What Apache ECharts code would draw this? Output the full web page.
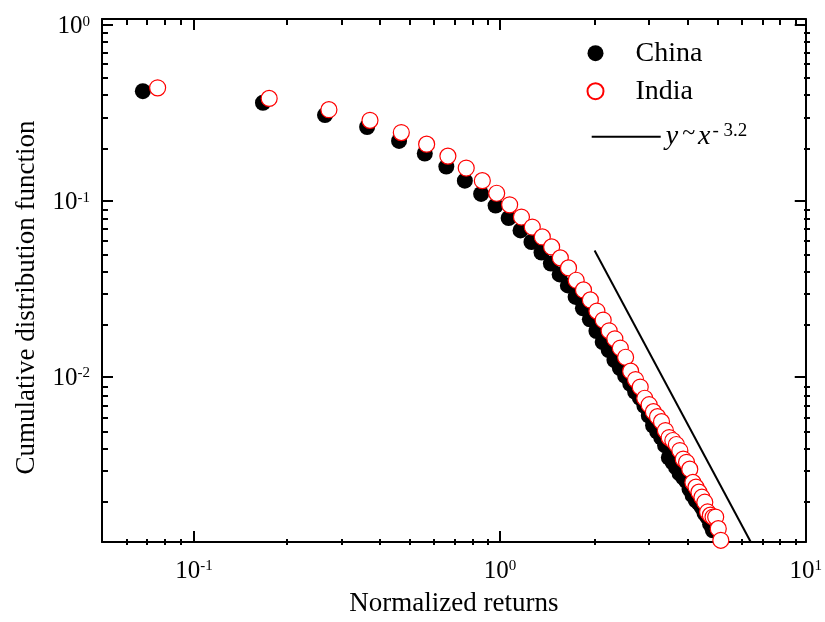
<!DOCTYPE html>
<html><head><meta charset="utf-8">
<script src="https://cdn.jsdelivr.net/npm/echarts@6/dist/echarts.min.js"></script>
<style>html,body{margin:0;padding:0;background:#fff}#c{width:825px;height:622px}</style>
</head><body><div id="c"></div>
<script>
// ---- data ----
const chinaX = [0.068,0.168,0.268,0.368,0.468,0.568,0.668,0.768,0.868,0.968,
  1.068,1.168,1.268,1.368,1.468,1.568,1.668,1.768,1.868,1.968,
  2.068,2.168,2.268,2.368,2.468,2.568,2.668,2.768,2.868,2.968,
  3.068,3.168,3.268,3.368,3.468,3.568,3.668,3.768,3.868,3.968,
  4.068,4.168,4.268,4.368,4.468,4.568,4.668,4.768,4.868,4.968];
const chinaY = [0.4195,0.3604,0.3067,0.2623,0.2186,0.1854,0.1562,0.1298,0.1091,0.0937,
  0.0795,0.0676,0.0581,0.0506,0.0438,0.0380,0.0329,0.0283,0.0244,0.0211,
  0.0181,0.01565,0.0141,0.01238,0.01115,0.01005,0.00906,0.00816,0.00755,0.0068,
  0.00597,0.00524,0.00484,0.00448,0.00404,0.00345,0.00324,0.00303,0.0028,0.00266,
  0.00253,0.00228,0.0021,0.00197,0.0019,0.0018,0.00166,0.00158,0.00144,0.00133];
const indiaX = [0.076,0.176,0.276,0.376,0.476,0.576,0.676,0.776,0.876,0.976,
  1.076,1.176,1.276,1.376,1.476,1.576,1.676,1.776,1.876,1.976,
  2.076,2.176,2.276,2.376,2.476,2.576,2.676,2.776,2.876,2.976,
  3.076,3.176,3.276,3.376,3.476,3.576,3.676,3.776,3.876,3.976,
  4.076,4.176,4.276,4.376,4.476,4.576,4.676,4.776,4.876,4.976,
  5.076,5.176,5.276];
const indiaY = [0.4384,0.3814,0.3292,0.2862,0.2438,0.2094,0.1791,0.1532,0.1298,0.1101,
  0.0946,0.0806,0.0707,0.0621,0.0545,0.0472,0.0414,0.0352,0.0310,0.0272,
  0.0235,0.0209,0.01814,0.01634,0.01448,0.01283,0.01069,0.00958,0.00868,0.0075,
  0.00689,0.00629,0.00589,0.00552,0.00491,0.00448,0.00431,0.00409,0.00378,0.00338,
  0.00324,0.00296,0.00249,0.00234,0.00219,0.00205,0.00192,0.00169,0.00162,0.00158,
  0.00158,0.001357,0.001166];
const fitX = [2.04, 6.61];
const fitY = [0.052, 0.00114];
const xMajorTicks = [0.1, 1, 10];
const yMajorTicks = [0.01, 0.1, 1];
const xMinorTicks = [0.06,0.07,0.08,0.09,0.2,0.3,0.4,0.5,0.6,0.7,0.8,0.9,2,3,4,5,6,7,8,9];
const yMinorTicks = [0.002,0.003,0.004,0.005,0.006,0.007,0.008,0.009,
  0.02,0.03,0.04,0.05,0.06,0.07,0.08,0.09,0.2,0.3,0.4,0.5,0.6,0.7,0.8,0.9];
const X_MIN = 0.05, X_MAX = 10;
const Y_MIN = 0.00114, Y_MAX = 1.08;
const seriesNames = ['China', 'India', 'fit'];
const xName = 'Normalized returns';
const yName = 'Cumulative distribution function';

// ---- chart ----
const F = '"Liberation Serif", "Times New Roman", serif';
const chart = echarts.init(document.getElementById('c'), null, {renderer: 'canvas'});
const powLabel = v => '{b|10}{s|' + Math.round(Math.log10(v)) + '}';
const labelRich = {
  b: {fontSize: 25, fontFamily: F, color: '#000'},
  s: {fontSize: 15, fontFamily: F, color: '#000', verticalAlign: 'top'}
};
const GRID = {left: 102, right: 15, top: 19, bottom: 77};
function axis(kind, gridIndex, position, major, withLabel) {
  const isX = kind === 'x';
  const a = {
    gridIndex, type: 'log', logBase: 10, position,
    min: isX ? X_MIN : Y_MIN, max: isX ? X_MAX : Y_MAX,
    axisLine: {show: major, onZero: false, lineStyle: {color: '#000', width: 2}},
    axisTick: {show: true, inside: true, length: major ? 11 : 6,
      customValues: major ? (isX ? xMajorTicks : yMajorTicks) : (isX ? xMinorTicks : yMinorTicks),
      lineStyle: {color: '#000', width: 2}},
    axisLabel: withLabel ? {show: true, customValues: isX ? xMajorTicks : yMajorTicks,
      margin: isX ? 17 : 12, padding: isX ? 0 : [4, 0, 0, 0],
      formatter: powLabel, rich: labelRich} : {show: false},
    splitLine: {show: false}, minorTick: {show: false}, minorSplitLine: {show: false}
  };
  if (withLabel) {
    a.name = isX ? xName : yName;
    a.nameLocation = 'middle';
    a.nameGap = isX ? 48 : 62;
    a.nameTextStyle = {fontSize: 27, fontFamily: F, color: '#000',
      padding: isX ? 0 : [0, 34, 0, 0]};
  }
  return a;
}
const option = {
  animation: false,
  backgroundColor: '#fff',
  grid: [Object.assign({}, GRID), Object.assign({}, GRID)],
  xAxis: [axis('x', 0, 'bottom', true, true), axis('x', 0, 'top', true, false),
          axis('x', 1, 'bottom', false, false), axis('x', 1, 'top', false, false)],
  yAxis: [axis('y', 0, 'left', true, true), axis('y', 0, 'right', true, false),
          axis('y', 1, 'left', false, false), axis('y', 1, 'right', false, false)],
  legend: [
    {data: ['China', 'India'], orient: 'vertical', left: 581.5, top: 34.2,
     itemWidth: 16, itemHeight: 16, itemGap: 10, selectedMode: false,
     textStyle: {fontSize: 28, fontFamily: F, color: '#000', padding: [0, 0, 0, 27]}},
    {data: ['fit'], left: 585.7, top: 116.3, itemWidth: 69, itemHeight: 14, selectedMode: false,
     itemStyle: {color: 'rgba(0,0,0,0)', borderWidth: 0},
     formatter: () => '{i|y}{t|~}{i|x}{s|- 3.2}',
     textStyle: {fontSize: 28, fontFamily: F, color: '#000',
       rich: {i: {fontSize: 28, fontFamily: F, fontStyle: 'italic', color: '#000'},
              t: {fontSize: 24, fontFamily: F, color: '#000', padding: [0, 3, 7, 4]},
              s: {fontSize: 19, fontFamily: F, color: '#000', verticalAlign: 'top', padding: [0, 0, 0, 2]}}}}
  ],
  series: [
    {name: seriesNames[0], type: 'scatter', xAxisIndex: 0, yAxisIndex: 0,
     data: chinaX.map((x, i) => [x, chinaY[i]]), symbol: 'circle', symbolSize: 16,
     itemStyle: {color: '#000', opacity: 1}, emphasis: {disabled: true}, z: 2},
    {name: seriesNames[1], type: 'scatter', xAxisIndex: 0, yAxisIndex: 0,
     data: indiaX.map((x, i) => [x, indiaY[i]]), symbol: 'circle', symbolSize: 16,
     itemStyle: {color: '#fff', borderColor: '#ff0000', borderWidth: 1.2, opacity: 1},
     emphasis: {disabled: true}, z: 3},
    {name: seriesNames[2], type: 'line', xAxisIndex: 0, yAxisIndex: 0,
     data: fitX.map((x, i) => [x, fitY[i]]), symbol: 'none',
     lineStyle: {color: '#000', width: 2}, itemStyle: {color: '#000'},
     emphasis: {disabled: true}, z: 4}
  ]
};
chart.setOption(option);
</script></body></html>
